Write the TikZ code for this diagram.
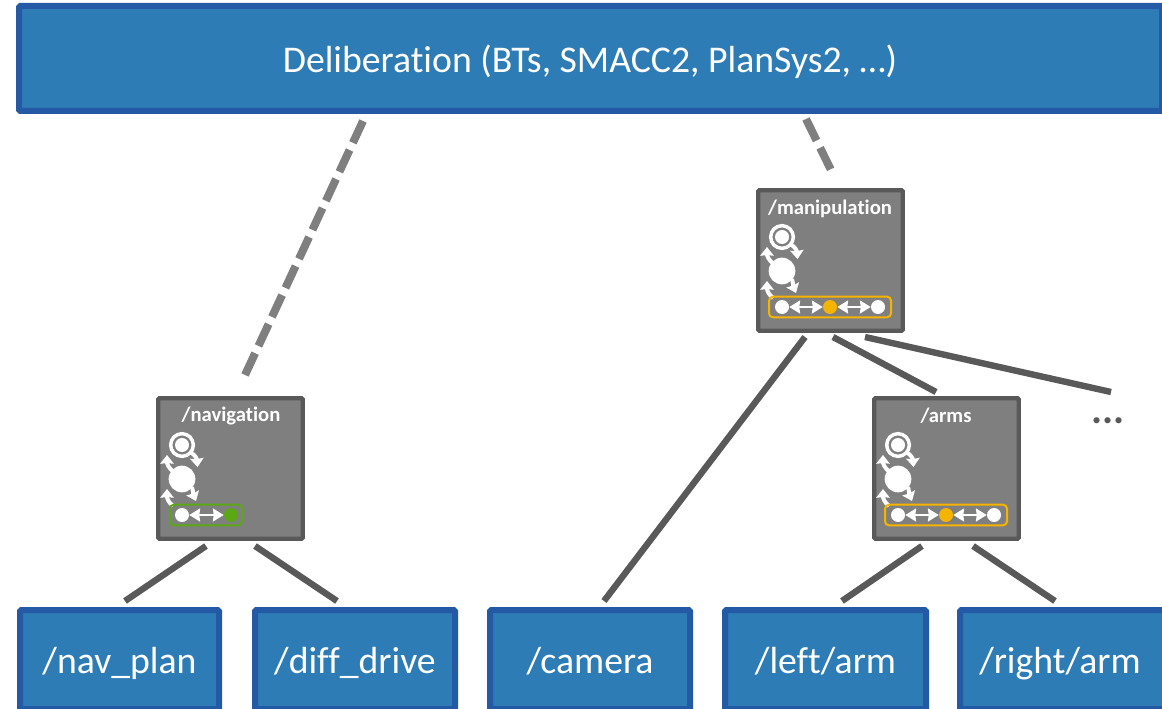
\documentclass[tikz,border=0pt]{standalone}
\usepackage{fontspec}
\setmainfont[Ligatures=NoCommon]{Carlito}
\usetikzlibrary{arrows.meta}
\definecolor{boxblue}{HTML}{2E7CB5}
\definecolor{boxedge}{HTML}{2359A5}
\definecolor{greyfill}{HTML}{7F7F7F}
\definecolor{greyedge}{HTML}{595959}
\definecolor{amber}{HTML}{F5B400}
\definecolor{leaf}{HTML}{5BA714}
\tikzset{
  x=0.75pt,y=-0.75pt,
  bluebox/.style={draw=boxedge,fill=boxblue,line width=4.5pt,rounded corners=1pt,inner sep=0pt,outer sep=0pt},
  bluetext/.style={text=white,font=\fontsize{28.3}{30}\selectfont,inner sep=0pt},
  greybox/.style={draw=greyedge,fill=greyfill,line width=3.2pt,rounded corners=1pt,inner sep=0pt,outer sep=0pt,minimum width=108.5pt,minimum height=105.5pt},
  title/.style={text=white,font=\bfseries\fontsize{15.5}{17}\selectfont,inner sep=0pt},
  link/.style={draw=greyedge,line width=4.8pt},
  dashlink/.style={draw=greyfill,line width=6pt,dash pattern=on 18pt off 6pt},
  bar/.style={rounded corners=3pt,line width=1.5pt,inner sep=0pt,outer sep=0pt,minimum height=15.5pt},
  disc/.style={circle,fill=white,inner sep=0pt,minimum size=#1},
  wire/.style={draw=white,line width=2.2pt,{Stealth[length=8pt,width=9.5pt,inset=0.5pt]}-{Stealth[length=8pt,width=9.5pt,inset=0.5pt]}},
  loopy/.style={draw=white,line width=3pt,-{Stealth[length=6.5pt,width=10pt,inset=0.5pt]}},
  ring/.style={circle,draw=white,fill=greyfill,line width=2.6pt,minimum size=17pt,inner sep=0pt},
}
\newcommand{\machine}[3]{% name, x, y of the ring
  \node[ring] (#1r) at (#2,#3) {};
  \node[disc=10.5pt] (#1i) at (#1r) {};
  \node[disc=20pt] (#1d) at (#2,#3+34) {};
  \draw[loopy] (#2-8,#3+27) .. controls (#2-14,#3+23) and (#2-15,#3+18) .. (#2-15,#3+10);
  \draw[loopy] (#2+8,#3+7) .. controls (#2+14,#3+10) and (#2+15,#3+15) .. (#2+15.5,#3+22);
  \draw[loopy] (#2-9,#3+61) .. controls (#2-14,#3+57) and (#2-15,#3+53) .. (#2-15,#3+44);
  \draw[loopy] (#2+10,#3+42) .. controls (#2+11,#3+46) and (#2+11.5,#3+50) .. (#2+14,#3+56);
}
\begin{document}
\begin{tikzpicture}
\useasboundingbox (0,0) rectangle (1162,709);
\clip (0,0) rectangle (1162,709);
\fill[white] (0,0) rectangle (1162,709);
% deliberation
\node[bluebox,minimum width=1143*0.75pt,minimum height=105*0.75pt] (delib) at (590.5,58.5) {};
\node[bluetext] (delibtext) at (590,61.5) {Deliberation (BTs, SMACC2, PlanSys2, …)};
% leaves
\foreach \n/\cx/\w in {nav/119.5/199,diff/355/200,cam/590/200,left/825.5/201,right/1063/206}{
  \node[bluebox,minimum width=\w*0.75pt,minimum height=99*0.75pt] (\n) at (\cx,659.5) {};
}
\node[bluetext] (navt) at (119.5,665) {\strut/nav\_plan};
\node[bluetext] (difft) at (355,665) {\strut/diff\_drive};
\node[bluetext] (camt) at (590,665) {\strut/camera};
\node[bluetext] (leftt) at (825.5,665) {\strut/left/arm};
\node[bluetext] (rightt) at (1060,665) {\strut/right/arm};
% lifecycle nodes
\node[greybox] (manip) at (830.5,260.5) {};
\node[greybox] (navi) at (230.5,468.5) {};
\node[greybox] (arms) at (946.5,468.5) {};
\node[title] (maniptitle) at (830,208.5) {/manipulation};
\node[title] (navititle) at (231,416) {/navigation};
\node[title] (armstitle) at (946,416) {/arms};
\machine{ma}{782}{237}
\machine{na}{182}{445}
\machine{ar}{898}{445}
% state bars
\node[bar,draw=amber,minimum width=91.5pt] (mabar) at (830,307) {};
\node[bar,draw=amber,minimum width=91.5pt] (arbar) at (946,515) {};
\node[bar,draw=leaf,minimum width=54pt] (nabar) at (206,515) {};
\node[disc=10.5pt] (m1) at (782,307) {};
\node[disc=10.5pt,fill=amber] (m2) at (830,307) {};
\node[disc=10.5pt] (m3) at (878,307) {};
\draw[wire] (m1) -- (m2);
\draw[wire] (m2) -- (m3);
\node[disc=10.5pt] (a1) at (898,515) {};
\node[disc=10.5pt,fill=amber] (a2) at (946,515) {};
\node[disc=10.5pt] (a3) at (994,515) {};
\draw[wire] (a1) -- (a2);
\draw[wire] (a2) -- (a3);
\node[disc=10.5pt] (n1) at (182,515) {};
\node[disc=10.5pt,fill=leaf] (n2) at (231,515) {};
\draw[wire] (n1) -- (n2);
% connector ends
\coordinate (d1a) at (363,121); \coordinate (d1b) at (245,375);
\coordinate (d2a) at (806,119); \coordinate (d2b) at (831,170);
\coordinate (n1a) at (206,546); \coordinate (n1b) at (125,601);
\coordinate (n2a) at (255,546); \coordinate (n2b) at (337,601);
\coordinate (m1a) at (805,337); \coordinate (m1b) at (604,601);
\coordinate (m2a) at (833,337); \coordinate (m2b) at (936,392);
\coordinate (m3a) at (865,337); \coordinate (m3b) at (1111,392);
\coordinate (a1a) at (922,546); \coordinate (a1b) at (842,601);
\coordinate (a2a) at (973,546); \coordinate (a2b) at (1055,601);
\draw[dashlink] (d1a) -- (d1b);
\draw[dashlink] (d2a) -- (d2b);
\foreach \p/\q in {n1a/n1b,n2a/n2b,m1a/m1b,m2a/m2b,m3a/m3b,a1a/a1b,a2a/a2b}
  \draw[link] (\p) -- (\q);
\node[text=greyedge,font=\bfseries\fontsize{31}{34}\selectfont,inner sep=0pt,anchor=base] (more) at (1108,423.5) {...};
\end{tikzpicture}
\end{document}
